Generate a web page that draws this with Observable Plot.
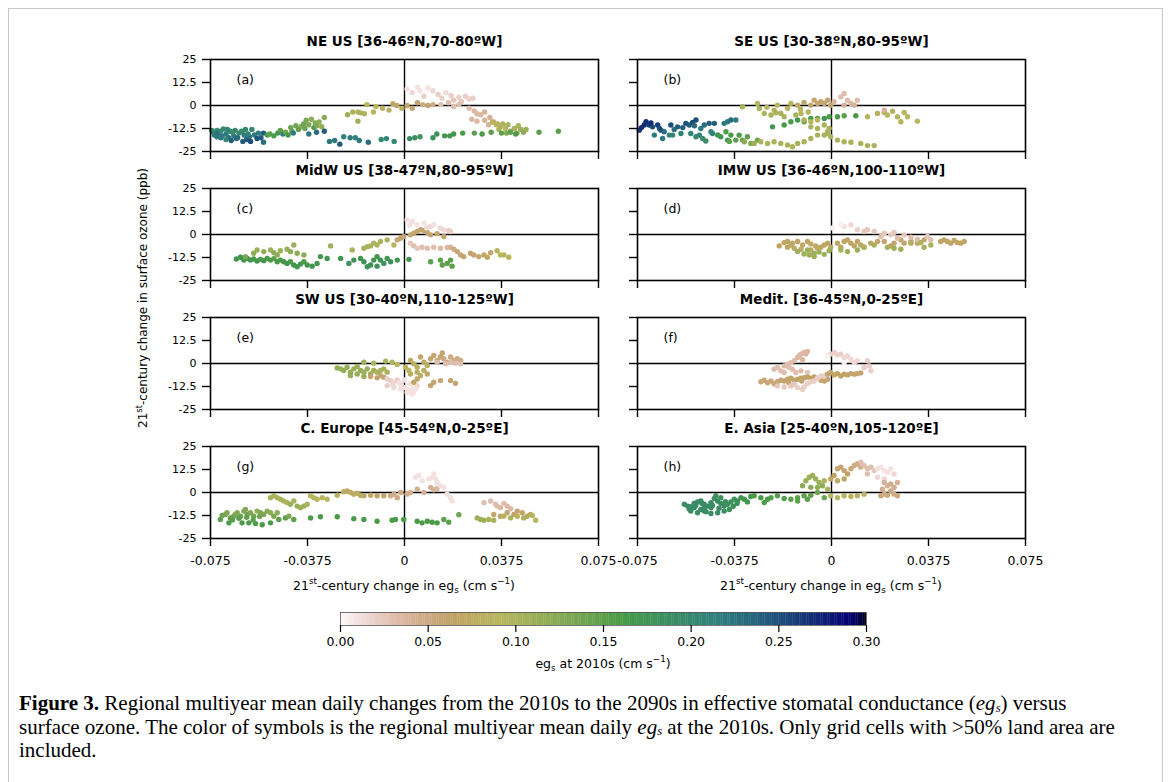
<!DOCTYPE html>
<html><head><meta charset="utf-8">
<script src="https://cdn.jsdelivr.net/npm/d3@7"></script>
<script src="https://cdn.jsdelivr.net/npm/@observablehq/plot@0.6"></script>
<style>
body{margin:0;background:#fff;width:1171px;height:782px;overflow:hidden;position:relative;font-family:"DejaVu Sans",sans-serif;color:#000;}
#border{position:absolute;left:8px;top:8px;width:1153px;height:800px;border:1.5px solid #c8c8c8;}
.abs{position:absolute;}
.lab{position:absolute;white-space:nowrap;transform:translate(-50%,-50%);font-size:12.5px;}
sup,sub{font-size:0.7em;line-height:0;}
#ylab{position:absolute;left:143px;top:298px;white-space:nowrap;font-size:12px;transform:translate(-50%,-50%) rotate(-90deg);}
#caption{position:absolute;left:19px;top:692px;font-family:"Liberation Serif",serif;font-size:21px;line-height:23.5px;white-space:nowrap;}
#caption sub{font-size:0.6em;vertical-align:baseline;position:relative;top:0.15em;line-height:0;}
</style></head><body>
<div id="border"></div>
<script>
// ---- tick labels / categories ----
const xTicks = [-0.075, -0.0375, 0, 0.0375, 0.075];
const yTicks = [-25, -12.5, 0, 12.5, 25];
const cbTicks = [0, 0.05, 0.1, 0.15, 0.2, 0.25, 0.3];
const titles = ["NE US [36-46ºN,70-80ºW]", "SE US [30-38ºN,80-95ºW]", "MidW US [38-47ºN,80-95ºW]", "IMW US [36-46ºN,100-110ºW]",
  "SW US [30-40ºN,110-125ºW]", "Medit. [36-45ºN,0-25ºE]", "C. Europe [45-54ºN,0-25ºE]", "E. Asia [25-40ºN,105-120ºE]"];
const letters = ["(a)", "(b)", "(c)", "(d)", "(e)", "(f)", "(g)", "(h)"];

// ---- series: [change in eg_s (cm/s), change in ozone (ppb), eg_s at 2010s (cm/s)] ----
const neUS = [
[-0.074,-14.5,0.21],[-0.0735,-16,0.22],[-0.0725,-13.5,0.2],[-0.072,-15,0.23],[-0.0712,-14,0.21],[-0.0705,-16.5,0.22],[-0.070,-12.8,0.2],[-0.069,-15.5,0.22],[-0.068,-17.5,0.23],[-0.0675,-14,0.21],[-0.067,-19,0.24],[-0.066,-16.5,0.22],[-0.0655,-13.5,0.2],[-0.065,-18,0.23],[-0.064,-15,0.21],[-0.063,-14,0.19],[-0.062,-16,0.22],[-0.0615,-13,0.2],[-0.061,-18.5,0.24],[-0.060,-17,0.23],[-0.0595,-19.5,0.25],[-0.058,-16,0.22],[-0.057,-18,0.25],[-0.069,-18.5,0.2],[-0.0665,-14.5,0.19],[-0.0725,-17,0.22],
[-0.0745,-13.5,0.2],[-0.071,-17.5,0.22],[-0.0685,-13,0.21],[-0.0645,-17.5,0.23],[-0.0625,-19.5,0.24],[-0.0605,-15.5,0.21],[-0.059,-13,0.2],[-0.0565,-15,0.22],[-0.0555,-17.5,0.24],
[-0.0545,-15,0.24],[-0.0545,-20,0.23],[-0.053,-16,0.16],[-0.052,-15.5,0.15],[-0.0505,-16.5,0.16],[-0.049,-15,0.17],[-0.048,-13.5,0.15],[-0.047,-15.5,0.22],[-0.046,-14.5,0.14],[-0.045,-16,0.16],[-0.044,-12,0.14],[-0.0435,-14,0.15],[-0.043,-15,0.22],[-0.042,-11,0.14],[-0.041,-13,0.15],[-0.040,-11.5,0.13],[-0.039,-10,0.14],[-0.0385,-12.5,0.14],[-0.038,-8,0.13],[-0.037,-10.5,0.13],[-0.036,-7.5,0.12],[-0.035,-12,0.16],[-0.0345,-9.5,0.13],[-0.034,-11,0.13],[-0.033,-9,0.12],[-0.032,-11.5,0.12],[-0.031,-6.5,0.12],[-0.037,-15.5,0.22],[-0.034,-14.5,0.23],[-0.031,-14,0.24],
[-0.029,-19.5,0.22],[-0.027,-19,0.22],[-0.025,-21,0.24],[-0.0235,-17,0.21],[-0.021,-17.5,0.22],[-0.019,-17.5,0.21],[-0.0175,-19,0.22],[-0.014,-20,0.23],[-0.009,-18.5,0.2],[-0.007,-18,0.21],[-0.004,-19.5,0.2],[0.002,-18,0.19],[0.004,-17.5,0.19],
[-0.022,-5,0.11],[-0.020,-3.5,0.1],[-0.018,-3.5,0.09],[-0.017,-4,0.1],[-0.0155,-4.5,0.1],[-0.018,-8.5,0.11],[-0.0145,0.5,0.09],[-0.012,-3.5,0.09],[-0.011,-0.5,0.09],[-0.0085,-1.5,0.08],[-0.006,-2.5,0.08],[-0.0045,1,0.07],[-0.003,0,0.07],[-0.001,-1.5,0.08],
[0.001,0,0.06],[0.003,-1.5,0.06],[0.005,1.5,0.06],[0.007,0.5,0.05],[0.009,0,0.06],[0.011,0.5,0.05],
[0.001,9,0.01],[0.003,7,0.015],[0.005,10,0.01],[0.006,8,0.01],[0.0075,5,0.02],[0.009,9.5,0.01],[0.011,8,0.015],[0.013,6,0.02],[0.0145,4,0.02],[0.016,7,0.015],[0.018,5.5,0.02],[0.019,3,0.025],[0.021,4.5,0.02],[0.022,2,0.025],[0.0235,5,0.02],[0.025,3.5,0.02],[0.0265,4,0.02],[0.014,0.5,0.03],[0.017,1.5,0.03],[0.019,-0.5,0.03],[0.021,0.5,0.03],
[0.025,-1.5,0.03],[0.027,-3,0.035],[0.028,-4.5,0.035],[0.0295,-5,0.035],[0.031,-3.5,0.04],[0.026,-7.5,0.035],[0.028,-8.5,0.035],[0.031,-8,0.04],[0.033,-6.5,0.04],[0.0345,-9,0.05],[0.0325,-10.5,0.04],[0.036,-10,0.07],
[0.034,-9,0.08],[0.0355,-10.5,0.09],[0.037,-11.5,0.08],[0.038,-10,0.1],[0.039,-12.5,0.09],[0.0365,-13,0.1],[0.040,-10.5,0.1],[0.041,-14,0.12],[0.0425,-12.5,0.1],[0.044,-11,0.1],[0.045,-13,0.11],[0.046,-14.5,0.12],[0.0435,-15,0.12],[0.047,-13,0.11],[0.0395,-15,0.13],
[0.006,-17,0.18],[0.011,-17.5,0.18],[0.0125,-15.5,0.18],[0.0155,-16.5,0.17],[0.0175,-16.5,0.17],[0.019,-15.5,0.17],[0.0225,-15,0.16],[0.027,-15,0.15],[0.030,-15.5,0.16],[0.0335,-14.5,0.15],[0.0375,-15,0.15],[0.041,-14.5,0.15],[0.043,-15.5,0.16],[0.052,-14.5,0.15],[0.0595,-14,0.15]
];
const seUS = [
[-0.0743,-13.4,0.26],[-0.0724,-10.6,0.27],[-0.0717,-8.8,0.27],[-0.0705,-10.6,0.26],[-0.0692,-11.6,0.25],[-0.0672,-10.6,0.26],[-0.0659,-13.4,0.24],[-0.0647,-14.3,0.23],[-0.0621,-10.6,0.25],[-0.0595,-11.6,0.24],[-0.0563,-9.7,0.25],[-0.055,-10.6,0.24],[-0.0537,-9.2,0.25],[-0.0524,-7.9,0.25],[-0.0505,-12.5,0.22],[-0.0492,-10.6,0.23],[-0.0473,-9.7,0.24],[-0.0453,-9.7,0.24],[-0.0415,-9.7,0.22],[-0.0402,-8.8,0.22],[-0.0389,-7.9,0.23],[-0.037,-7.9,0.22],
[-0.0735,-12,0.27],[-0.0698,-9.5,0.27],[-0.0665,-12.5,0.25],[-0.0608,-13,0.23],[-0.0575,-12,0.24],[-0.053,-11,0.23],
[-0.0685,-16.1,0.22],[-0.0653,-17.9,0.22],[-0.0627,-16.1,0.21],[-0.0614,-16.1,0.2],[-0.0582,-15.2,0.21],[-0.0544,-15.2,0.21],[-0.0524,-17,0.2],[-0.0511,-16.1,0.21],[-0.0498,-17.9,0.19],[-0.0486,-19.3,0.19],[-0.0466,-14.3,0.2],[-0.046,-15.2,0.21],
[-0.0428,-17,0.17],[-0.0408,-14.3,0.16],[-0.0402,-18.8,0.17],[-0.0389,-16.1,0.16],[-0.037,-18.8,0.15],[-0.0357,-16.1,0.16],[-0.0344,-18.8,0.14],[-0.0325,-17,0.15],[-0.0312,-20.6,0.13],[-0.0286,-18.8,0.14],[-0.044,-16,0.17],[-0.0395,-19.5,0.15],
[-0.0228,-11.6,0.17],[-0.0183,-10.6,0.16],[-0.0157,-8.8,0.16],[-0.0131,-7.9,0.17],[-0.0106,-8.8,0.15],[-0.008,-7,0.16],[-0.0054,-7,0.16],[-0.0028,-7,0.17],[-0.0009,-6.1,0.16],[0.0023,-6.1,0.16],[0.0049,-5.6,0.15],[0.0094,-5.6,0.16],
[-0.0337,-19.7,0.12],[-0.0299,-20.6,0.11],[-0.0273,-19.7,0.1],[-0.0247,-20.6,0.1],[-0.0222,-19.7,0.1],[-0.0196,-20.6,0.1],[-0.017,-21.5,0.1],[-0.0151,-22.4,0.1],[-0.0131,-20.6,0.1],[-0.0106,-19.7,0.1],[-0.008,-17.9,0.1],[-0.0054,-16.1,0.1],[-0.0028,-16.1,0.1],[-0.0015,-14.3,0.1],[-0.0003,-17,0.1],[0.0023,-18.8,0.1],[0.0049,-19.7,0.1],[0.0075,-20,0.1],[0.0113,-20.6,0.1],[0.0139,-21.8,0.1],[0.0165,-21.8,0.1],
[-0.0344,-0.7,0.1],[-0.0286,1.1,0.09],[-0.0279,-1.6,0.1],[-0.026,-4.3,0.1],[-0.0234,-5.2,0.1],[-0.0222,-2.5,0.09],[-0.0209,0.2,0.09],[-0.0196,-4.3,0.1],[-0.0183,-6.1,0.1],[-0.0157,1.1,0.08],[-0.0138,-5.2,0.1],[-0.0118,-4.3,0.09],[-0.0106,-7.9,0.1],[-0.008,-8.8,0.09],[-0.0054,-7.9,0.09],[-0.008,-11.6,0.1],[-0.0054,-12.5,0.1],[-0.0028,-10.6,0.1],[-0.0009,-12.5,0.1],[-0.0015,-15.2,0.1],
[-0.025,-1,0.09],[-0.0215,-4,0.1],[-0.017,-1.5,0.09],[-0.012,-2,0.09],[-0.009,-3.5,0.09],
[-0.0131,0.2,0.07],[-0.0106,1.6,0.07],[-0.008,0.2,0.06],[-0.0067,2.9,0.06],[-0.0054,1.1,0.06],[-0.0041,2,0.06],[-0.0028,1.1,0.06],[-0.0015,2.9,0.06],[-0.0003,0.2,0.06],
[0.001,2,0.035],[0.0036,4.7,0.03],[0.0049,6.5,0.03],[0.0062,2.9,0.03],[0.0075,1.1,0.035],[0.0088,0.2,0.04],[0.01,2.9,0.03],[0.0049,0.2,0.04],
[0.0139,-6.1,0.09],[0.0178,-4.3,0.08],[0.0204,-3.8,0.08],[0.0216,-5.2,0.09],[0.0236,-3.1,0.08],[0.0255,-6.1,0.09],[0.0268,-8.8,0.09],[0.0281,-3.8,0.09],[0.0294,-6.1,0.09],[0.0332,-8.5,0.09],[0.0204,-2.5,0.04]
];
const midwUS = [
[-0.065,-13.3,0.17],[-0.0634,-12.4,0.17],[-0.0621,-13.9,0.17],[-0.0608,-13,0.16],[-0.0596,-13.9,0.17],[-0.0583,-13.3,0.16],[-0.057,-14.4,0.17],[-0.0557,-13.5,0.16],[-0.0544,-14.2,0.17],[-0.0531,-13,0.16],[-0.0518,-13.9,0.16],[-0.0505,-13.1,0.15],[-0.0492,-14.8,0.16],[-0.048,-13.9,0.16],[-0.0467,-14.8,0.17],[-0.0454,-15.7,0.17],[-0.0441,-14.8,0.16],[-0.0428,-16.6,0.17],[-0.0415,-17.5,0.17],[-0.0402,-16.1,0.17],[-0.0389,-14.8,0.16],[-0.0376,-16.6,0.17],[-0.0357,-17.2,0.17],[-0.0338,-15.7,0.17],[-0.0325,-12,0.17],[-0.0299,-13,0.17],[-0.0247,-13,0.17],[-0.0215,-15.7,0.18],[-0.0196,-13.9,0.18],[-0.017,-13,0.17],[-0.0157,-14.8,0.18],[-0.0131,-16.6,0.18],[-0.0119,-13.9,0.17],[-0.0106,-12,0.17],[-0.0093,-13.9,0.18],[-0.008,-15.7,0.18],[-0.0067,-13,0.17],[-0.0054,-14.8,0.18],[-0.0028,-13.9,0.17],[0.0017,-13.5,0.17],[-0.0144,-17.5,0.18],[-0.0106,-17.2,0.18],
[-0.0615,-12,0.13],[-0.0583,-10.2,0.12],[-0.057,-8.4,0.11],[-0.0544,-9.3,0.12],[-0.0518,-8.4,0.11],[-0.0492,-11.1,0.12],[-0.048,-8.8,0.11],[-0.0454,-8,0.11],[-0.0441,-9.3,0.12],[-0.0428,-5.7,0.11],[-0.0415,-10.2,0.12],[-0.0389,-11.1,0.12],[-0.0286,-6.2,0.11],[-0.0505,-9.9,0.12],
[-0.0202,-8.4,0.1],[-0.0157,-7.5,0.1],[-0.0144,-6.6,0.1],[-0.0131,-6.2,0.1],[-0.0119,-4.7,0.1],[-0.0106,-5.7,0.1],[-0.0093,-3.8,0.1],[-0.0067,-2.9,0.1],[-0.0041,-5.7,0.09],
[-0.0028,-2.9,0.06],[-0.0015,-2,0.06],[-0.0003,-1.1,0.06],[0.0023,-0.2,0.06],[0.0036,0.7,0.06],[0.0049,1.6,0.06],[0.0062,2.6,0.06],[0.0075,2.2,0.06],[0.0088,1.1,0.06],[0.0101,-0.2,0.06],[0.0126,0.4,0.06],[0.0152,-1.1,0.06],
[0.001,8,0.01],[0.003,7.1,0.01],[0.0049,5.3,0.01],[0.0075,6.2,0.01],[0.0101,4.4,0.015],[0.0113,5.3,0.01],[0.0139,3.5,0.015],[0.0152,2.6,0.015],[0.0171,2.2,0.02],[0.0178,1.6,0.02],[0.002,5,0.01],[0.0085,3.5,0.015],
[0.0023,-4.7,0.025],[0.0036,-6.2,0.03],[0.0049,-7.5,0.025],[0.0068,-6.9,0.03],[0.0088,-7.5,0.03],[0.0113,-6.9,0.03],[0.0139,-7.5,0.035],[0.0165,-7.1,0.035],[0.0178,-6.9,0.04],
[0.0191,-8,0.05],[0.0204,-9.3,0.06],[0.0217,-11.1,0.06],[0.0229,-12,0.06],[0.0255,-10.2,0.06],[0.0268,-11.1,0.06],[0.0287,-12,0.06],[0.0307,-11.1,0.06],[0.032,-12.4,0.07],[0.0333,-9.9,0.06],
[0.0358,-8.8,0.09],[0.0371,-11.1,0.09],[0.0384,-11.1,0.09],[0.0403,-12.4,0.09],
[0.0101,-14.8,0.15],[0.0139,-13.9,0.15],[0.0146,-16.6,0.15],[0.0165,-15.7,0.15],[0.0184,-17.2,0.15],[0.0178,-13.9,0.15]
];
const imwUS = [
[-0.0202,-6.2,0.065],[-0.0183,-4.4,0.065],[-0.017,-3.8,0.065],[-0.0151,-4.7,0.07],[-0.0131,-3.8,0.065],[-0.0112,-5.7,0.07],[-0.0093,-3.8,0.065],[-0.008,-5.1,0.07],[-0.0061,-6.2,0.07],[-0.0041,-6.9,0.07],[-0.0028,-5.7,0.065],[-0.0015,-4.7,0.065],[-0.0003,-6.9,0.07],[-0.017,-6.9,0.07],[-0.0144,-7.5,0.07],[-0.0118,-8,0.075],[-0.008,-8.4,0.075],[-0.0054,-7.5,0.07],[-0.0157,-5.7,0.07],
[-0.0131,-9.3,0.11],[-0.0106,-10.6,0.11],[-0.0086,-11.1,0.11],[-0.0067,-10.2,0.11],[-0.0048,-9.5,0.11],[-0.0028,-10.8,0.11],[-0.0009,-8.8,0.11],[-0.0093,-8.4,0.11],[-0.0067,-12,0.11],
[0.0023,-4.7,0.065],[0.0036,-6.9,0.07],[0.0049,-3.8,0.065],[0.0062,-2.9,0.065],[0.0075,-4.7,0.065],[0.0088,-6.2,0.07],[0.01,-3.8,0.065],[0.0113,-5.7,0.07],[0.0126,-6.9,0.07],[0.0152,-4.7,0.065],[0.0178,-3.8,0.06],[0.0204,-3.8,0.06],[0.0229,-6.2,0.065],[0.0242,-4.7,0.06],[0.0268,-2.9,0.06],[0.0281,-4.7,0.06],[0.0307,-3.8,0.06],[0.0332,-4.7,0.06],[0.0358,-2.9,0.06],
[0.0049,4.4,0.01],[0.0075,5.3,0.015],[0.01,2.6,0.02],[0.0126,1.6,0.025],[0.0139,2.6,0.025],[0.0165,1.6,0.025],[0.0191,-1.1,0.03],[0.0204,0.7,0.025],[0.0229,-0.2,0.025],[0.0242,1.1,0.025],[0.0255,-2,0.03],[0.0281,-0.2,0.025],[0.0307,-1.5,0.03],[0.0332,-2.6,0.03],[0.0371,-1.1,0.025],[0.0384,-2.9,0.03],[0.0004,3.5,0.005],[0.0036,5.3,0.005],
[0.0036,-8.4,0.1],[0.0062,-9.3,0.11],[0.01,-8.4,0.11],[0.0126,-6.9,0.1],[0.0165,-5.7,0.1],[0.0216,-6.9,0.1],[0.0242,-7.5,0.11],[0.0268,-8,0.11],[0.0307,-4.7,0.1],[0.0345,-4.4,0.1],[0.0358,-6.9,0.1],[0.0384,-5.7,0.1],
[0.0422,-3.8,0.065],[0.0435,-2.9,0.065],[0.0448,-3.8,0.065],[0.0461,-4.7,0.065],[0.0474,-3.3,0.065],[0.0487,-4.4,0.065],[0.05,-4.7,0.065],[0.0513,-3.8,0.065]
];
const swUS = [
[-0.026,-2.4,0.115],[-0.0247,-2.9,0.115],[-0.0235,-3.8,0.115],[-0.0222,-2,0.115],[-0.0209,-4.7,0.115],[-0.0196,-2.9,0.11],[-0.0183,-1.6,0.11],[-0.017,-3.8,0.115],[-0.0157,-4.7,0.11],[-0.0144,-2.9,0.11],[-0.0131,-5.7,0.11],[-0.0119,-3.8,0.11],[-0.0106,-4.7,0.1],[-0.0093,-3.8,0.1],[-0.008,-2.9,0.1],[-0.0067,-4.7,0.1],[-0.0209,-6.6,0.115],[-0.0183,-5.7,0.115],[-0.0157,-7.1,0.11],[-0.0157,0.7,0.11],[-0.0119,0.2,0.1],[-0.0073,1.3,0.1],[-0.0048,0.7,0.1],[-0.0028,-0.5,0.09],
[-0.0131,-7.1,0.06],[-0.0106,-7.8,0.06],[-0.0093,-6.6,0.06],[-0.008,-7.5,0.06],
[-0.0067,-8.4,0.02],[-0.0054,-9.3,0.02],[-0.0041,-10.2,0.015],[-0.0028,-8.9,0.02],[-0.0015,-11.1,0.015],[-0.0003,-13,0.01],[0.001,-13.9,0.01],[0.0023,-14.8,0.01],[0.0036,-13,0.01],[0.0049,-12,0.015],[-0.0067,-12,0.02],[-0.0041,-13,0.015],[-0.0015,-13.9,0.01],[0.001,-15.7,0.01],[0.003,-16.6,0.01],[0.0043,-13.9,0.01],
[-0.002,-10.5,0.01],[0.0,-9,0.01],[0.002,-11,0.01],[-0.0045,-11.5,0.015],[0.0035,-15.5,0.01],
[0.0004,-2,0.09],[0.0017,-3.8,0.09],[0.0023,1.6,0.07],[0.0036,-0.2,0.08],[0.0049,-2,0.08],[0.0062,3.5,0.06],[0.0075,0.7,0.07],[0.0088,-1.1,0.08],[0.0101,2.6,0.06],[0.0113,4.4,0.06],[0.0126,1.6,0.06],[0.0139,3.5,0.06],[0.0152,2.6,0.05],[0.0165,0.7,0.05],[0.0178,3.5,0.05],[0.0191,1.6,0.05],[0.0204,2.6,0.05],[0.0217,1.6,0.05],[0.0023,-5.7,0.08],[0.0049,-4.7,0.08],[0.0062,-6.6,0.08],[0.0075,-3.8,0.08],[0.0088,-5.7,0.07],[0.0049,-8.4,0.07],[0.0036,-10.2,0.07],
[0.0101,-12,0.06],[0.0113,-10.2,0.06],[0.0139,-9.3,0.06],[0.0178,-9.3,0.06],[0.0197,-10.8,0.06],[0.0146,5.7,0.06],
[0.0126,0.7,0.03],[0.0159,-0.2,0.03],[0.0178,0.7,0.03],[0.0197,0.2,0.03],[0.0217,-0.2,0.03]
];
const medit = [
[-0.0222,-3.1,0.03],[-0.0209,-2.2,0.03],[-0.0196,-4,0.03],[-0.0183,-1.3,0.03],[-0.017,-0.4,0.03],[-0.0157,0.5,0.03],[-0.0144,1.5,0.03],[-0.0131,3.3,0.035],[-0.0118,5.1,0.035],[-0.0106,6,0.035],[-0.0093,6.6,0.035],[-0.0151,-3.1,0.03],[-0.0138,-4.9,0.03],[-0.0118,-4,0.03],[-0.0093,-4.9,0.025],[-0.0183,-4.9,0.03],[-0.0125,4.2,0.035],[-0.0099,5.1,0.035],[-0.0165,-2,0.03],[-0.0112,2,0.035],
[-0.0273,-9.9,0.055],[-0.026,-9.1,0.055],[-0.0247,-10.4,0.055],[-0.0234,-9.5,0.055],[-0.0222,-11,0.055],[-0.0209,-9.9,0.06],[-0.0196,-9.1,0.06],[-0.0183,-9.5,0.06],[-0.017,-8.6,0.06],[-0.0157,-8,0.065],[-0.0144,-9.1,0.06],[-0.0131,-8.6,0.065],[-0.0118,-8,0.065],[-0.0106,-7.7,0.065],[-0.0093,-7.3,0.065],[-0.008,-8,0.065],[-0.0067,-7.3,0.065],[-0.0054,-8,0.065],[-0.0041,-9.1,0.06],[-0.0028,-9.5,0.06],[-0.0015,-8.6,0.06],[-0.0165,-10.5,0.06],[-0.0115,-9.5,0.06],
[-0.0209,-12.2,0.025],[-0.0183,-12.8,0.025],[-0.0157,-12.2,0.025],[-0.0131,-13.1,0.02],[-0.0112,-14.1,0.02],[-0.0106,-12.8,0.02],[-0.0093,-11,0.02],[-0.008,-9.9,0.02],[-0.0067,-9.5,0.02],[-0.0054,-8,0.02],[-0.0041,-6.8,0.02],[-0.0028,-6.8,0.02],[-0.0144,-11.3,0.025],
[-0.0015,-5.8,0.06],[-0.0003,-4.9,0.06],[0.001,-6.2,0.065],[0.0023,-5.5,0.065],[0.0036,-6.8,0.065],[0.0049,-5.8,0.065],[0.0062,-6.2,0.065],[0.0075,-5.5,0.06],[0.0088,-5.8,0.06],[0.01,-5.5,0.06],[0.0113,-5.1,0.06],
[-0.0003,5.1,0.02],[0.001,6,0.02],[0.0023,4.7,0.02],[0.0036,5.1,0.02],[0.0049,3.3,0.015],[0.0062,4.2,0.015],[0.0075,2.4,0.015],[0.0088,0.5,0.015],[0.01,1.5,0.015],[0.0139,1.5,0.02],[0.0146,-1.3,0.02],[0.0152,-4,0.02],[0.0126,-2.2,0.02],[-0.0015,4.2,0.005],[0.0049,0.5,0.005]
];
const cEurope = [
[-0.0712,-14.7,0.15],[-0.0692,-11.9,0.14],[-0.0686,-11,0.13],[-0.0679,-16.5,0.16],[-0.0673,-13.8,0.15],[-0.066,-12.9,0.14],[-0.0654,-11.9,0.13],[-0.0647,-11,0.13],[-0.0634,-12.9,0.14],[-0.0621,-10.1,0.13],[-0.0615,-9.2,0.13],[-0.0608,-11.9,0.14],[-0.0596,-11,0.13],[-0.0583,-12.9,0.14],[-0.057,-10.1,0.12],[-0.0557,-11,0.13],[-0.0544,-11.9,0.13],[-0.0531,-10.1,0.12],[-0.0518,-11,0.12],[-0.0505,-12.9,0.13],[-0.0492,-11,0.12],[-0.0628,-16.5,0.16],[-0.0602,-16.5,0.16],[-0.0576,-16.9,0.16],[-0.055,-17.5,0.16],[-0.0518,-16.5,0.16],[-0.0486,-14.7,0.15],[-0.046,-13.8,0.15],[-0.0447,-12.9,0.13],[-0.0428,-14.7,0.15],
[-0.0705,-12.5,0.14],[-0.0665,-15,0.15],[-0.064,-14,0.15],[-0.061,-13.5,0.15],[-0.0585,-15,0.15],[-0.056,-13,0.14],
[-0.0518,-2.8,0.1],[-0.0505,-1.8,0.1],[-0.0492,-2.8,0.1],[-0.048,-3.7,0.1],[-0.0467,-4.6,0.1],[-0.0454,-5.5,0.1],[-0.0441,-6.4,0.11],[-0.0428,-4.6,0.1],[-0.0415,-7.4,0.11],[-0.0402,-8.3,0.11],[-0.0389,-7.4,0.11],[-0.0376,-6.4,0.1],[-0.0363,-1.8,0.09],[-0.0351,-2.8,0.09],[-0.0338,-3.7,0.09],[-0.0318,-2.8,0.09],[-0.0299,-3.7,0.09],
[-0.026,-1.5,0.08],[-0.0235,0.4,0.08],[-0.0222,0.9,0.075],[-0.0209,0,0.075],[-0.0196,-0.9,0.075],[-0.0183,-0.4,0.075],[-0.017,-1.5,0.075],[-0.0157,-1.8,0.07],[-0.0131,-1.5,0.07],[-0.0106,-1.8,0.065],[-0.008,-1.8,0.065],
[-0.0054,-1.8,0.05],[-0.0041,-0.9,0.05],[-0.0028,-2.8,0.05],[-0.0015,0,0.05],[0.001,-0.9,0.045],[0.0023,0,0.045],[0.0049,1.8,0.045],[0.0075,0,0.04],[0.0101,2.8,0.04],[0.0113,1.5,0.04],[0.0126,2.2,0.035],
[0.0043,8.3,0.01],[0.0055,9.2,0.01],[0.0068,6.4,0.01],[0.0094,7.4,0.01],[0.0107,8.3,0.01],[0.012,7.4,0.01],[0.0126,5.5,0.01],[0.0139,3.7,0.01],[0.0152,2.8,0.01],[0.0165,-0.9,0.01],[0.0178,-2.8,0.01],[0.0184,-4.6,0.01],[0.0113,10.1,0.01],
[-0.0363,-13.8,0.16],[-0.0325,-13.2,0.16],[-0.026,-13.2,0.16],[-0.0196,-14.3,0.16],[-0.0157,-14.7,0.16],[-0.0106,-15.6,0.16],[-0.0048,-15.1,0.16],[-0.0035,-14.7,0.16],[-0.0003,-14.7,0.16],[0.0049,-15.6,0.16],[0.0068,-16.5,0.16],[0.0088,-15.6,0.16],[0.0107,-16.2,0.16],[0.0126,-16.5,0.16],[0.0152,-14.7,0.15],[0.0171,-16.2,0.15],[0.021,-12.1,0.14],
[0.0307,-5.5,0.03],[0.0333,-4.6,0.03],[0.0352,-6.4,0.03],[0.0358,-7.4,0.03],[0.0371,-8.3,0.035],[0.0384,-5.9,0.03],[0.0397,-7.4,0.035],[0.041,-8.8,0.035],
[0.0345,-11.9,0.06],[0.0371,-12.9,0.065],[0.0397,-11,0.06],[0.0423,-11.9,0.065],[0.0436,-10.1,0.06],[0.0455,-11,0.065],[0.0474,-12.9,0.07],[0.0487,-11.9,0.07],
[0.0281,-13.8,0.11],[0.0294,-14.7,0.11],[0.0307,-15.1,0.11],[0.0326,-14.7,0.1],[0.0345,-15.1,0.1],[0.0384,-12.9,0.09],[0.041,-13.8,0.1],[0.0436,-12.9,0.09],[0.0461,-13.8,0.1],[0.0494,-12.5,0.09],[0.0507,-15.1,0.09]
];
const eAsia = [
[-0.0569,-6.4,0.19],[-0.0556,-7.4,0.19],[-0.0544,-7.7,0.19],[-0.0531,-5.9,0.19],[-0.0518,-5.1,0.19],[-0.0505,-4.6,0.19],[-0.0492,-6.4,0.19],[-0.0479,-7.4,0.19],[-0.0466,-5.5,0.19],[-0.0453,-3.3,0.18],[-0.044,-4.6,0.19],[-0.0428,-5.9,0.19],[-0.0415,-7.4,0.19],[-0.0402,-6.4,0.18],[-0.0389,-5.1,0.18],[-0.0376,-3.7,0.18],[-0.0363,-4.6,0.18],[-0.035,-2.8,0.17],[-0.0337,-3.7,0.17],[-0.0325,-5.1,0.17],[-0.0312,-2.2,0.17],[-0.0544,-10.1,0.19],[-0.0518,-11,0.19],[-0.0492,-10.1,0.19],[-0.0466,-11.4,0.19],[-0.044,-11,0.19],[-0.0415,-10.1,0.19],[-0.0395,-9.2,0.18],[-0.0492,-8.3,0.19],[-0.0466,-8.3,0.19],[-0.0447,-1.8,0.18],[-0.0428,-2.8,0.18],[-0.0531,-8.3,0.19],[-0.0505,-9.2,0.19],
[-0.055,-9,0.19],[-0.0525,-7,0.19],[-0.05,-6,0.19],[-0.0485,-10.5,0.19],[-0.046,-7,0.19],[-0.0435,-8.5,0.19],[-0.041,-5,0.18],[-0.038,-7.5,0.18],[-0.0365,-6,0.18],
[-0.0299,-1.8,0.16],[-0.0273,-2.8,0.16],[-0.026,-5.5,0.16],[-0.0247,-3.7,0.16],[-0.0234,-2.8,0.155],[-0.0209,-1.8,0.155],[-0.0183,-3.3,0.155],[-0.0157,-3.7,0.15],[-0.0131,-2.8,0.15],[-0.0106,-1.8,0.15],[-0.008,-1.5,0.15],[-0.0054,0,0.14],[-0.0028,-2.8,0.14],[-0.0131,-4.6,0.15],[-0.0093,-3.7,0.15],
[-0.0112,3.7,0.12],[-0.0099,6.4,0.11],[-0.0086,8.3,0.11],[-0.0073,9.2,0.11],[-0.0061,7.4,0.11],[-0.0048,5.5,0.11],[-0.0035,3.7,0.12],[-0.0028,6.4,0.1],[-0.008,2.8,0.12],[-0.0054,2.8,0.12],[-0.0015,1.8,0.1],
[-0.0003,-1.8,0.09],[0.0023,-2.8,0.09],[0.0049,-1.8,0.09],[0.0075,-2.2,0.085],[0.01,-1.8,0.08],[0.0126,-0.9,0.08],
[-0.0003,7.4,0.07],[0.001,9.2,0.065],[0.0023,12.9,0.06],[0.0036,13.8,0.06],[0.0049,11.9,0.06],[0.0062,10.1,0.065],[0.0075,12.9,0.055],[0.0088,14.7,0.05],[0.01,15.6,0.05],[0.0113,13.8,0.045],[0.0023,6.4,0.07],[0.0049,7.4,0.07],
[0.0113,16.5,0.03],[0.0126,14.7,0.03],[0.0139,12.9,0.03],[0.0152,13.8,0.03],[0.0165,11.9,0.025],[0.0139,10.1,0.03],
[0.0178,12.9,0.01],[0.0191,13.8,0.01],[0.0204,11.9,0.01],[0.0216,11,0.01],[0.0229,12.9,0.01],[0.0242,10.1,0.015],[0.0178,8.3,0.015],[0.0204,7.4,0.015],
[0.0204,5.5,0.04],[0.0216,3.7,0.04],[0.0229,4.6,0.045],[0.0242,2.8,0.045],[0.0255,5.5,0.04],[0.0197,1.8,0.045],[0.0229,0.9,0.05],[0.0216,-1.5,0.055],[0.0242,-0.9,0.05],[0.0255,-1.8,0.05],[0.0191,-1.8,0.055],[0.0204,-0.9,0.05]
];
const series = [neUS, seUS, midwUS, imwUS, swUS, medit, cEurope, eAsia];

// ---- gist_earth colormap (reversed), as in matplotlib ----
const GE = {
  r: [[0,0],[0.2824,0.1882],[0.4588,0.2714],[0.5490,0.4719],[0.6980,0.7176],[0.7882,0.7553],[1,0.9922]],
  g: [[0,0],[0.0275,0],[0.1098,0.1893],[0.1647,0.3035],[0.2078,0.3841],[0.2824,0.5020],[0.5216,0.6397],[0.6980,0.7171],[0.7882,0.6392],[0.7922,0.6413],[0.8,0.6447],[0.8078,0.6481],[0.8157,0.6549],[0.8667,0.6991],[0.8745,0.7103],[0.8824,0.7216],[0.8902,0.7323],[0.8980,0.7430],[0.9412,0.8275],[0.9569,0.8635],[0.9647,0.8816],[0.9961,0.9733],[1,0.9843]],
  b: [[0,0],[0.0039,0.1684],[0.0078,0.2212],[0.0275,0.4329],[0.0314,0.4549],[0.2824,0.5004],[0.4667,0.2748],[0.5451,0.3205],[0.7843,0.3961],[0.8941,0.6651],[1,0.9843]]
};
function seg(a, t) {
  for (let i = 1; i < a.length; i++) if (t <= a[i][0]) { const [x0, y0] = a[i-1], [x1, y1] = a[i]; return y0 + (y1 - y0) * (t - x0) / (x1 - x0); }
  return a[a.length-1][1];
}
function gistEarthR(t) {
  const u = 1 - Math.max(0, Math.min(1, t));
  return `rgb(${Math.round(seg(GE.r,u)*255)},${Math.round(seg(GE.g,u)*255)},${Math.round(seg(GE.b,u)*255)})`;
}
const colorOpts = {type: "linear", domain: [0, 0.3], clamp: true, interpolate: t => gistEarthR(t)};

const fmt = d => String(d);
const colLeft = [210, 637], rowTop = [59, 188, 317, 446];
const FW = 388, FH = 92;
const mL = 80, mR = 40, mT = 36, mB = 40;

series.forEach((data, i) => {
  const col = i % 2, row = Math.floor(i / 2);
  const svg = Plot.plot({
    width: FW + mL + mR, height: FH + mT + mB,
    marginLeft: mL, marginRight: mR, marginTop: mT, marginBottom: mB,
    style: {background: "transparent", overflow: "visible", fontFamily: "DejaVu Sans", color: "black"},
    x: {domain: [-0.075, 0.075]},
    y: {domain: [-25, 25]},
    color: colorOpts,
    marks: [
      Plot.ruleY([0], {stroke: "black", strokeWidth: 1.4}),
      Plot.ruleX([0], {stroke: "black", strokeWidth: 1.4}),
      Plot.dot(data, {x: d => d[0], y: d => d[1], fill: d => d[2], r: 2.7}),
      Plot.frame({stroke: "black", strokeWidth: 1.6}),
      Plot.axisX(xTicks, {tickSize: 8, tickPadding: 10, strokeWidth: 1.4, fontSize: 12.5, tickFormat: row === 3 ? fmt : () => "", label: null}),
      Plot.axisY(yTicks, {tickSize: 8, tickPadding: 6, strokeWidth: 1.4, fontSize: 11, tickFormat: col === 0 ? fmt : () => "", label: null}),
      Plot.text([titles[i]], {frameAnchor: "top", dy: -17.5, lineAnchor: "middle", fontWeight: "bold", fontSize: 13.5, fill: "black"}),
      Plot.text([letters[i]], {frameAnchor: "top-left", dx: 26, dy: 20, lineAnchor: "middle", textAnchor: "start", fontSize: 12.5, fill: "black"})
    ]
  });
  const div = document.createElement("div");
  div.className = "abs";
  div.style.left = (colLeft[col] - mL) + "px";
  div.style.top = (rowTop[row] - mT) + "px";
  div.appendChild(svg);
  document.body.appendChild(div);
});

// colorbar
const cbSteps = d3.range(0, 0.3, 0.001);
const cb = Plot.plot({
  width: 526 + 60, height: 13 + 40, marginLeft: 30, marginRight: 30, marginTop: 0, marginBottom: 40,
  style: {background: "transparent", overflow: "visible", fontFamily: "DejaVu Sans", color: "black"},
  x: {domain: [0, 0.3]}, y: {domain: [0, 1], axis: null},
  color: colorOpts,
  marks: [
    Plot.rect(cbSteps, {x1: d => d, x2: d => Math.min(0.3, d + 0.0012), y1: 0, y2: 1, fill: d => d + 0.0005}),
    Plot.frame({stroke: "#555", strokeWidth: 0.8}),
    Plot.axisX(cbTicks, {tickSize: 7, tickPadding: 5, strokeWidth: 1.2, fontSize: 12.5, tickFormat: d => d.toFixed(2), label: null})
  ]
});
const cbDiv = document.createElement("div");
cbDiv.className = "abs"; cbDiv.style.left = (340 - 30) + "px"; cbDiv.style.top = "612px";
cbDiv.appendChild(cb); document.body.appendChild(cbDiv);
</script>
<div class="lab" style="left:404px;top:585px">21<sup>st</sup>-century change in eg<sub>s</sub> (cm s<sup>−1</sup>)</div>
<div class="lab" style="left:831px;top:585px">21<sup>st</sup>-century change in eg<sub>s</sub> (cm s<sup>−1</sup>)</div>
<div id="ylab">21<sup>st</sup>-century change in surface ozone (ppb)</div>
<div class="lab" style="left:603px;top:663px">eg<sub>s</sub> at 2010s (cm s<sup>−1</sup>)</div>
<div id="caption"><b>Figure 3.</b> Regional multiyear mean daily changes from the 2010s to the 2090s in effective stomatal conductance (<i>eg<sub>s</sub></i>) versus<br>surface ozone. The color of symbols is the regional multiyear mean daily <i>eg<sub>s</sub></i> at the 2010s. Only grid cells with &gt;50% land area are<br>included.</div>
</body></html>
